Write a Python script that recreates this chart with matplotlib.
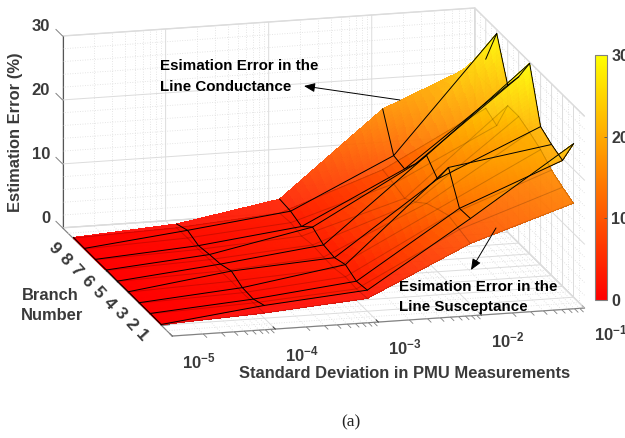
import numpy as np
import matplotlib
matplotlib.use("Agg")
import matplotlib.pyplot as plt
from matplotlib.cm import ScalarMappable
from matplotlib.colors import Normalize

# -----------------------------------------------------------
# Data (rows = branch, columns = sigma)
# -----------------------------------------------------------

log_sigma = [-5, -4, -3, -2, -1]
branches = [1, 2, 3, 4, 5, 6, 7, 8, 9]

conductance_err = [
    [0.12, 2.0, 3.3, 13.4, 24.0],
    [0.15, 1.3, 3.0, 13.3, 19.7],
    [0.14, 1.4, 3.9, 18.0, 20.5],
    [0.16, 2.3, 3.3, 14.5, 21.6],
    [0.13, 1.7, 3.6, 16.5, 29.8],
    [0.18, 1.5, 4.7, 13.5, 26.0],
    [0.15, 1.2, 3.1, 11.0, 23.0],
    [0.17, 1.9, 3.8, 11.4, 29.4],
    [0.20, 1.2, 4.0, 17.0, 23.7],
]

susceptance_err = [
    [0.08, 0.8, 2.0, 9.5, 14.7],
    [0.09, 0.7, 1.8, 10.0, 15.5],
    [0.08, 0.6, 2.0, 10.5, 16.5],
    [0.10, 0.7, 1.6, 9.8, 18.0],
    [0.09, 0.6, 1.7, 9.0, 19.0],
    [0.10, 0.7, 1.9, 7.5, 19.8],
    [0.08, 0.6, 1.6, 6.4, 19.8],
    [0.09, 0.7, 2.0, 7.0, 15.0],
    [0.10, 0.6, 1.8, 7.5, 16.0],
]

x_tick_labels = ["$\\mathbf{10^{-5}}$", "$\\mathbf{10^{-4}}$", "$\\mathbf{10^{-3}}$",
                 "$\\mathbf{10^{-2}}$", "$\\mathbf{10^{-1}}$"]
z_ticks = [0, 10, 20, 30]

# -----------------------------------------------------------
# Plot settings
# -----------------------------------------------------------

plt.rcParams.update({
    "font.family": "Liberation Sans",
    "font.weight": "bold",
    "font.size": 11,
    "mathtext.fontset": "custom",
    "mathtext.bf": "Liberation Sans:bold",
    "mathtext.rm": "Liberation Sans:bold",
})

DARK = "#3a3a3a"
GRID = "#dcdcdc"
W, H = 625, 438
SURF_ALPHA = 0.97

fig = plt.figure(figsize=(W / 100, H / 100), dpi=100)

ax = fig.add_axes([0.0082, -0.1196, 0.992, 1.4155], projection="3d", computed_zorder=False)
ax.set_proj_type("ortho")
ax.view_init(elev=15, azim=-104.7)
ax.set_box_aspect((427, 433, 199))
ax.set_xlim(-5, -1, view_margin=0)
ax.set_ylim(0, 10, view_margin=0)
ax.set_zlim(0, 30, view_margin=0)
ax.patch.set_alpha(0)

for axis in (ax.xaxis, ax.yaxis, ax.zaxis):
    axis.set_pane_color((1, 1, 1, 1))
    axis.pane.set_edgecolor(GRID)
    axis.line.set_color("#808080")
    axis.line.set_linewidth(0.8)
    axis._axinfo["grid"].update(color=GRID, linewidth=0.7, linestyle="-")
    axis._axinfo["tick"].update(color="#808080", linewidth={True: 0.7, False: 0.7})
    axis._axinfo["tick"]["inward_factor"] = 0.0
    axis._axinfo["tick"]["outward_factor"] = 0.25

ax.set_xticks(log_sigma)
ax.set_xticklabels(x_tick_labels, ha="left", va="center")
ax.set_yticks(branches)
ax.set_yticklabels([str(b) for b in branches], rotation=-48, ha="center", va="center")
ax.set_zticks([])
ax.tick_params(axis="x", colors=DARK, labelsize=12, pad=12)
ax.tick_params(axis="y", colors=DARK, labelsize=12.5, pad=3)
ax.zaxis.line.set_color("#555555")

# z ticks lean along the branch direction, so they are drawn by hand at the left edge
for z in z_ticks:
    ax.plot([-5, -1], [10, 10], [z, z], color=GRID, linewidth=0.7, zorder=0.5)
    ax.plot([-1, -1], [0, 10], [z, z], color=GRID, linewidth=0.7, zorder=0.5)
    ax.plot([-5, -5], [10, 10.6], [z, z], color="#808080", linewidth=0.7, zorder=0.6)

# -----------------------------------------------------------
# Minor grid lines (dotted) on the floor and the two back walls
# -----------------------------------------------------------

minor_x = [d + np.log10(m) for d in log_sigma[:-1] for m in range(2, 10)]
minor_z = [z for z in range(0, 31, 2) if z % 10]
minor_y = [b + 0.5 for b in range(0, 10)]
dots = dict(color=GRID, linewidth=0.6, linestyle=(0, (1, 2)), zorder=0.5)

for x in minor_x:
    ax.plot([x, x], [0, 10], [0, 0], **dots)
    ax.plot([x, x], [10, 10], [0, 30], **dots)
    ax.plot([x, x], [0, -0.32], [0, 0], color="#808080", linewidth=0.6, zorder=0.6)
for z in minor_z:
    ax.plot([-5, -1], [10, 10], [z, z], **dots)
    ax.plot([-1, -1], [0, 10], [z, z], **dots)
for y in minor_y:
    ax.plot([-5, -1], [y, y], [0, 0], **dots)
    ax.plot([-1, -1], [y, y], [0, 30], **dots)

# -----------------------------------------------------------
# Surfaces
# -----------------------------------------------------------

def fade(img, dpi):
    """Apply one transparency to a whole surface, so its facets do not show as seams."""
    out = img.copy()
    out[:, :, 3] *= SURF_ALPHA
    return out, 0, 0


def draw_surface(values, surf_z, mesh_z, mesh_alpha, mesh_rows):
    """Surface with smooth colour (fine facets for colouring only) and a mesh on top."""
    z = np.array(values, dtype=float)
    xs, ys = np.array(log_sigma, dtype=float), np.array(branches, dtype=float)

    n = 14
    fx = np.linspace(xs[0], xs[-1], (len(xs) - 1) * n + 1)
    fy = np.linspace(ys[0], ys[-1], (len(ys) - 1) * n + 1)
    by_x = np.array([np.interp(fx, xs, row) for row in z])
    fine = np.array([np.interp(fy, ys, col) for col in by_x.T]).T
    fxx, fyy = np.meshgrid(fx, fy)

    surf = ax.plot_surface(fxx, fyy, fine, cmap="autumn", vmin=0, vmax=30, rstride=1, cstride=1,
                           linewidth=0, antialiased=False, shade=False, zorder=surf_z)
    surf.set_agg_filter(fade)

    line = dict(color="black", linewidth=0.7, alpha=mesh_alpha, zorder=mesh_z)
    for i in mesh_rows:
        ax.plot(xs, [ys[i]] * len(xs), z[i, :], **line)
    for j in range(len(xs)):
        ax.plot([xs[j]] * len(ys), ys, z[:, j], **line)


draw_surface(susceptance_err, 1, 3, 0.18, range(len(branches)))
draw_surface(conductance_err, 2, 4, 1.0, range(len(branches) - 1))

# -----------------------------------------------------------
# Colorbar
# -----------------------------------------------------------

cax = fig.add_axes([595 / W, (H - 300) / H, 12 / W, 245 / H])
cb = fig.colorbar(ScalarMappable(Normalize(0, 30), "autumn"), cax=cax, ticks=z_ticks)
cb.outline.set_edgecolor("#808080")
cb.ax.tick_params(direction="in", length=2, width=0.6, color="#555555", labelcolor=DARK,
                  labelsize=11.5, pad=3)

# -----------------------------------------------------------
# Labels and arrows, placed in picture pixels
# -----------------------------------------------------------

over = fig.add_axes([0, 0, 1, 1])
over.set_xlim(0, W)
over.set_ylim(H, 0)
over.axis("off")

for z in z_ticks:
    over.text(50, 218.5 - 6.4 * z, str(z), ha="right", va="center", color=DARK, fontsize=12)

over.text(16, 132, "Estimation Error (%)", rotation=90, ha="center", va="center", color=DARK, fontsize=11.9)
over.text(405, 374, "Standard Deviation in PMU Measurements", ha="center", va="center", color=DARK, fontsize=11.9)
over.text(50, 295, "Branch", ha="center", va="center", color=DARK, fontsize=11.9)
over.text(52, 316, "Number", ha="center", va="center", color=DARK, fontsize=11.9)

over.text(160, 66, "Esimation Error in the", ha="left", va="center", color="black", fontsize=10.9)
over.text(160, 87, "Line Conductance", ha="left", va="center", color="black", fontsize=10.9)
over.text(399, 287, "Esimation Error in the", ha="left", va="center", color="black", fontsize=10.9)
over.text(399, 307, "Line Susceptance", ha="left", va="center", color="black", fontsize=10.9)

arrow = dict(arrowstyle="-|>,head_length=0.6,head_width=0.25", color="black", linewidth=0.7,
             shrinkA=0, shrinkB=0)
over.annotate("", xy=(304, 86), xytext=(400, 100), arrowprops=arrow)
over.annotate("", xy=(471, 270), xytext=(496, 228), arrowprops=arrow)

over.text(351, 422, "(a)", ha="center", va="center", family="Liberation Serif", weight="normal",
          color="#222222", fontsize=12.5)

fig.savefig("out.png", dpi=100)
